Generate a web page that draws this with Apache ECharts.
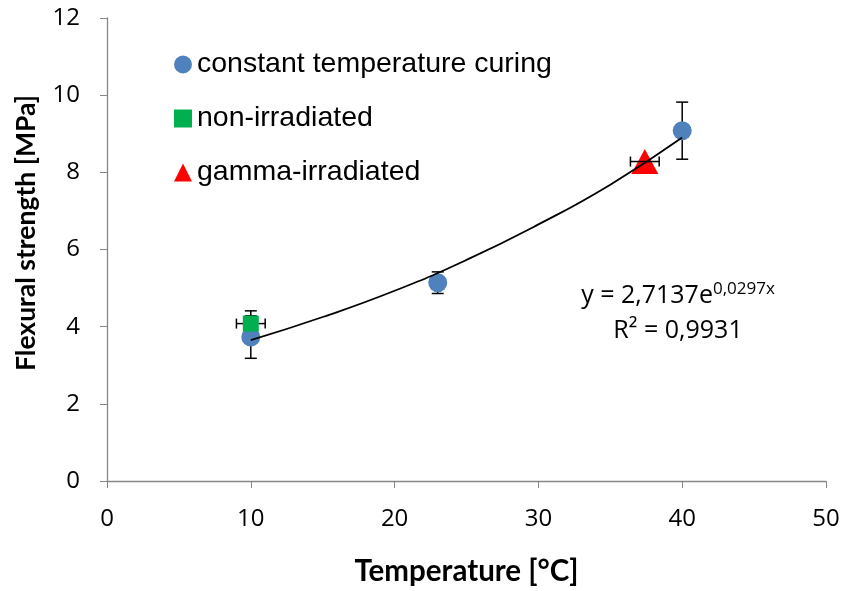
<!DOCTYPE html>
<html>
<head>
<meta charset="utf-8">
<script src="https://cdn.jsdelivr.net/npm/echarts@6/dist/echarts.min.js"></script>
<style>
  html, body { margin: 0; padding: 0; background: #fff; }
  #chart { width: 844px; height: 591px; }
</style>
</head>
<body>
<div id="chart"></div>
<script>
// data
var constantTemp = [[10, 3.73], [23, 5.14], [40, 9.08]];
var constantErr = [0.55, 0.28, 0.74];
var nonIrradiated = [[10, 4.08]];
var nonIrrErrY = [0.33];
var nonIrrErrX = [1.0];
var gammaIrradiated = [[37.4, 8.28]];
var gammaErrX = [1.0];
var trendX = [10, 15, 20, 25, 30, 35, 40];
var trendY = [3.65, 4.25, 4.93, 5.73, 6.65, 7.68, 8.90];
var xTicks = [0, 10, 20, 30, 40, 50];
var yTicks = [0, 2, 4, 6, 8, 10, 12];

var myChart = echarts.init(document.getElementById('chart'));

// vertical error bars: [x, low, high]
var vErr = constantTemp.map(function (p, i) {
    return [p[0], p[1] - constantErr[i], p[1] + constantErr[i]];
});
vErr.push([nonIrradiated[0][0], nonIrradiated[0][1] - nonIrrErrY[0], nonIrradiated[0][1] + nonIrrErrY[0]]);
// horizontal error bars: [y, low, high]
var hErrSquare = [[nonIrradiated[0][1], nonIrradiated[0][0] - nonIrrErrX[0], nonIrradiated[0][0] + nonIrrErrX[0]]];
var hErrTriangle = [[gammaIrradiated[0][1], gammaIrradiated[0][0] - gammaErrX[0], gammaIrradiated[0][0] + gammaErrX[0]]];

function errStyle() {
    return { stroke: '#000', lineWidth: 1.5, fill: null };
}

function renderV(params, api) {
    var lo = api.coord([api.value(0), api.value(1)]);
    var hi = api.coord([api.value(0), api.value(2)]);
    var w = 6;
    return {
        type: 'group',
        children: [
            { type: 'line', shape: { x1: lo[0], y1: lo[1], x2: hi[0], y2: hi[1] }, style: errStyle() },
            { type: 'line', shape: { x1: lo[0] - w, y1: lo[1], x2: lo[0] + w, y2: lo[1] }, style: errStyle() },
            { type: 'line', shape: { x1: hi[0] - w, y1: hi[1], x2: hi[0] + w, y2: hi[1] }, style: errStyle() }
        ]
    };
}

function renderH(params, api) {
    var lo = api.coord([api.value(1), api.value(0)]);
    var hi = api.coord([api.value(2), api.value(0)]);
    var h = 5;
    return {
        type: 'group',
        children: [
            { type: 'line', shape: { x1: lo[0], y1: lo[1], x2: hi[0], y2: hi[1] }, style: errStyle() },
            { type: 'line', shape: { x1: lo[0], y1: lo[1] - h, x2: lo[0], y2: lo[1] + h }, style: errStyle() },
            { type: 'line', shape: { x1: hi[0], y1: hi[1] - h, x2: hi[0], y2: hi[1] + h }, style: errStyle() }
        ]
    };
}

var option = {
    animation: false,
    textStyle: { fontFamily: 'Liberation Sans' },
    grid: { left: 107, right: 18, top: 18, bottom: 103, containLabel: false },
    legend: {
        orient: 'vertical',
        left: 169,
        top: 45,
        itemWidth: 18,
        itemHeight: 18,
        itemGap: 25,
        textStyle: { fontSize: 28.5, color: '#000', fontFamily: 'Liberation Sans' },
        data: [
            { name: 'constant temperature curing', icon: 'circle' },
            { name: 'non-irradiated', icon: 'rect' },
            { name: 'gamma-irradiated', icon: 'triangle' }
        ]
    },
    xAxis: {
        type: 'value',
        min: xTicks[0],
        max: xTicks[xTicks.length - 1],
        interval: 10,
        name: 'Temperature [°C]',
        nameLocation: 'middle',
        nameGap: 75,
        nameTextStyle: { fontSize: 29.5, fontWeight: 'bold', color: '#000', fontFamily: 'Lato' },
        axisLine: { lineStyle: { color: '#868686', width: 1.3 } },
        axisTick: { show: true, length: 7, lineStyle: { color: '#868686' } },
        axisLabel: { fontSize: 24, color: '#000', margin: 26, fontFamily: 'Open Sans' },
        splitLine: { show: false }
    },
    yAxis: {
        type: 'value',
        min: yTicks[0],
        max: yTicks[yTicks.length - 1],
        interval: 2,
        axisLine: { show: true, lineStyle: { color: '#868686', width: 1.3 } },
        axisTick: { show: true, length: 7, lineStyle: { color: '#868686' } },
        axisLabel: { fontSize: 24, color: '#000', margin: 27, fontFamily: 'Open Sans' },
        splitLine: { show: false }
    },
    graphic: [
        {
            type: 'text',
            x: 26,
            y: 233,
            rotation: Math.PI / 2,
            style: {
                text: 'Flexural strength [MPa]',
                fontSize: 26.5,
                fontWeight: 'bold',
                fontFamily: 'Lato',
                fill: '#000',
                align: 'center',
                verticalAlign: 'middle'
            }
        },
        {
            type: 'text',
            x: 678,
            y: 296,
            style: {
                text: '{n|y = 2,7137e}{s|0,0297x}',
                align: 'center',
                verticalAlign: 'middle',
                rich: {
                    n: { fontSize: 25, fontFamily: 'Open Sans', fill: '#000' },
                    s: { fontSize: 17, fontFamily: 'Open Sans', fill: '#000', padding: [0, 0, 14, 0] }
                }
            },
            z: 100
        },
        {
            type: 'text',
            x: 678,
            y: 331,
            style: { text: 'R² = 0,9931', fontSize: 25, fontFamily: 'Open Sans', fill: '#000', align: 'center', verticalAlign: 'middle' },
            z: 100
        }
    ],
    series: [
        {
            name: 'vErr',
            type: 'custom',
            data: vErr,
            z: 1,
            renderItem: renderV
        },
        {
            name: 'hErrSquare',
            type: 'custom',
            data: hErrSquare,
            z: 1,
            renderItem: renderH,
            encode: { x: [1, 2], y: 0 }
        },
        {
            name: 'constant temperature curing',
            type: 'scatter',
            symbol: 'circle',
            symbolSize: 19,
            itemStyle: { color: '#4f81bd', opacity: 1 },
            data: constantTemp,
            z: 2
        },
        {
            name: 'non-irradiated',
            type: 'scatter',
            symbol: 'rect',
            symbolSize: 16,
            itemStyle: { color: '#00b050', opacity: 1 },
            data: nonIrradiated,
            z: 2
        },
        {
            name: 'gamma-irradiated',
            type: 'scatter',
            symbol: 'triangle',
            symbolSize: [27, 25],
            itemStyle: { color: '#ff0000', opacity: 1 },
            data: gammaIrradiated,
            z: 2
        },
        {
            name: 'hErrTriangle',
            type: 'custom',
            data: hErrTriangle,
            z: 3,
            renderItem: renderH,
            encode: { x: [1, 2], y: 0 }
        },
        {
            name: 'trend',
            type: 'line',
            smooth: true,
            symbol: 'none',
            lineStyle: { color: '#000', width: 1.8 },
            data: trendX.map(function (x, i) { return [x, trendY[i]]; }),
            z: 4
        }
    ]
};

myChart.setOption(option);
</script>
</body>
</html>
